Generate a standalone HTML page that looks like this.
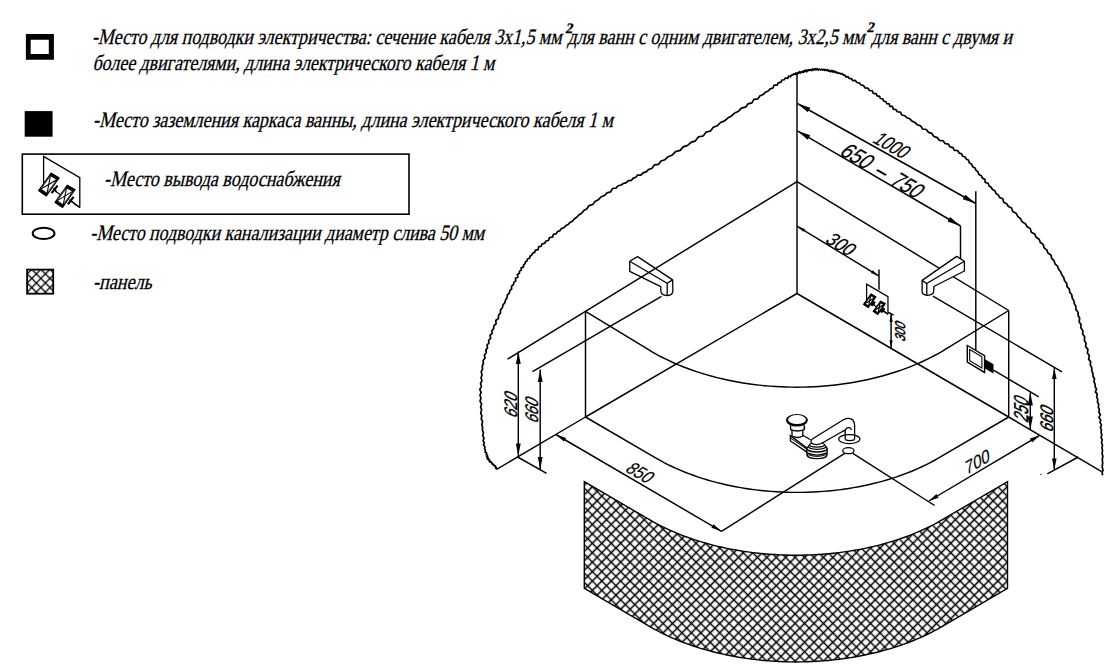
<!DOCTYPE html>
<html><head><meta charset="utf-8"><title>Схема подключения ванны</title>
<style>html,body{margin:0;padding:0;background:#fff;}body{width:1105px;height:668px;position:relative;overflow:hidden;font-family:"Liberation Serif",serif;}</style>
</head><body>
<svg width="1105" height="668" viewBox="0 0 1105 668" style="position:absolute;left:0;top:0">
<defs>
<pattern id="hatchP" patternUnits="userSpaceOnUse" width="6.6680" height="6.6680" patternTransform="translate(762.1,576.285) rotate(45)"><path d="M0,3.3340 H6.6680 M3.3340,0 V6.6680" stroke="#000" stroke-width="1.55" fill="none"/></pattern>
<pattern id="hatchS" patternUnits="userSpaceOnUse" width="6.4347" height="6.4347" patternTransform="translate(36.3,269.350) rotate(45)"><path d="M0,3.2173 H6.4347 M3.2173,0 V6.4347" stroke="#000" stroke-width="1.35" fill="none"/></pattern>
</defs>
<g stroke="#000" fill="none" stroke-linecap="butt">
<path d="M496.60,469.40 L496.73,468.78 L495.83,468.48 L496.29,467.33 L495.12,466.98 L495.34,465.84 L494.05,465.77 L494.06,464.82 L493.02,464.84 L492.95,463.82 L491.95,463.84 L491.84,462.81 L491.00,462.55 L490.95,461.49 L489.45,461.82 L489.65,460.50 L488.67,460.21 L488.93,458.94 L487.11,458.91 L487.99,457.32 L486.59,456.82 L487.48,455.30 L486.05,454.56 L486.66,453.03 L485.13,451.94 L485.41,450.24 L484.60,448.65 L484.92,446.74 L483.45,444.97 L484.24,442.75 L483.07,440.65 L484.05,438.13 L482.69,435.69 L483.45,432.90 L482.43,430.20 L482.57,427.35 L481.84,424.57 L482.61,421.65 L481.22,418.83 L481.88,415.81 L480.68,412.91 L481.63,409.87 L480.59,406.97 L481.63,404.00 L480.03,401.13 L480.99,398.19 L479.98,395.29 L481.15,392.37 L479.78,389.43 L481.45,386.56 L480.49,383.57 L481.98,380.72 L481.05,377.71 L482.04,374.88 L481.15,371.86 L482.55,369.12 L482.21,366.13 L483.40,363.41 L483.10,360.44 L485.08,357.98 L484.34,355.01 L486.36,352.78 L485.80,349.98 L487.54,347.84 L486.98,345.07 L488.90,343.04 L488.61,340.29 L490.69,338.32 L489.91,335.38 L492.12,333.52 L491.91,330.72 L493.67,328.62 L493.82,325.81 L496.12,323.75 L495.72,320.50 L498.45,318.48 L498.50,315.33 L500.41,312.99 L500.50,309.92 L502.41,307.70 L502.95,304.88 L504.84,302.69 L505.53,299.99 L507.06,297.75 L507.31,295.00 L509.31,293.16 L509.86,290.70 L511.63,288.91 L511.51,286.23 L513.48,284.65 L513.85,282.32 L515.81,280.84 L515.48,278.26 L517.91,277.11 L517.38,274.53 L519.38,273.30 L519.58,271.17 L521.31,269.96 L521.11,267.73 L523.54,267.10 L523.47,264.99 L524.90,263.81 L525.43,261.98 L527.05,260.91 L527.48,258.95 L529.53,258.28 L530.00,256.23 L531.65,255.14 L532.55,253.25 L534.66,252.38 L535.43,250.11 L538.07,249.64 L538.60,246.91 L541.15,246.27 L542.08,243.82 L544.73,243.27 L546.02,241.05 L548.59,240.31 L549.49,237.48 L552.45,237.20 L553.39,234.38 L556.10,233.87 L557.49,231.67 L559.87,230.78 L561.34,228.60 L563.87,227.75 L565.70,225.85 L568.11,224.58 L569.84,222.42 L572.41,221.20 L574.22,218.92 L576.71,217.29 L578.83,215.00 L581.65,213.27 L583.82,210.54 L586.90,208.69 L589.01,205.58 L592.75,204.44 L595.02,201.52 L598.28,199.83 L600.83,197.02 L604.37,195.57 L607.02,192.92 L610.59,191.84 L612.50,188.52 L616.01,188.13 L618.17,185.73 L621.13,185.02 L623.50,183.32 L626.33,182.60 L628.48,180.59 L631.47,180.32 L633.31,178.13 L635.82,177.31 L637.65,175.11 L640.81,175.06 L643.02,172.83 L646.22,171.88 L648.70,169.46 L652.06,168.20 L654.32,164.96 L658.47,164.41 L660.95,161.00 L664.98,159.71 L668.19,156.74 L672.32,154.97 L675.57,151.67 L680.12,150.37 L683.19,146.82 L687.60,145.41 L691.04,142.36 L695.48,140.86 L698.37,136.94 L703.12,135.97 L705.96,132.16 L710.52,131.04 L713.28,127.30 L717.47,125.71 L720.53,122.52 L724.62,120.91 L727.78,118.01 L731.47,115.90 L734.67,113.08 L738.55,111.31 L741.37,108.12 L745.60,107.19 L748.02,103.83 L751.92,102.88 L753.92,99.30 L757.91,98.83 L760.00,95.78 L763.16,94.54 L765.39,92.21 L768.20,90.99 L770.16,88.82 L772.93,87.98 L774.14,85.22 L777.14,85.15 L778.33,82.69 L780.89,82.43 L781.91,80.03 L784.18,79.78 L785.38,78.02 L787.74,78.44 L788.43,76.17 L790.54,76.79 L791.32,75.01 L792.89,75.22 L793.67,73.76 L795.21,74.44 L795.85,72.91 L797.42,74.17 L797.89,72.55 L799.00,73.19 L799.44,71.64 L800.65,73.01 L801.18,71.83 L802.08,72.13 L802.68,71.45 L803.66,72.38 L803.98,70.59 L804.93,71.45 L805.44,70.24 L806.62,71.74 L806.98,69.99 L808.02,70.86 L808.60,69.68 L809.63,70.32 L810.48,69.77 L811.62,70.71 L812.50,69.00 L813.74,70.12 L814.77,68.57 L816.00,69.89 L817.12,68.53 L818.25,70.20 L819.46,69.13 L820.59,69.87 L821.82,69.25 L822.88,70.08 L824.08,69.26 L824.97,70.37 L826.09,69.73 L826.89,70.65 L828.06,69.75 L828.72,71.23 L829.84,70.50 L830.60,71.77 L831.77,70.45 L832.50,71.93 L833.68,70.75 L834.38,72.34 L835.64,71.50 L836.37,72.87 L837.58,72.46 L838.43,73.40 L839.77,73.03 L840.77,73.88 L842.40,73.56 L843.28,75.15 L845.03,75.13 L845.90,77.01 L848.06,76.69 L849.20,78.46 L851.39,78.56 L852.70,80.58 L855.36,80.47 L856.96,82.50 L859.49,82.98 L861.16,85.02 L863.62,85.66 L865.11,87.91 L867.93,88.14 L869.44,90.48 L872.28,90.74 L873.37,93.47 L876.07,93.70 L877.15,95.93 L879.54,96.32 L880.40,98.48 L882.76,98.82 L883.54,101.06 L885.83,101.53 L886.77,103.68 L889.26,103.83 L889.87,106.36 L892.48,106.42 L893.20,109.15 L895.86,109.54 L897.38,111.77 L900.42,112.04 L901.75,115.01 L904.73,115.71 L906.90,117.75 L909.80,118.81 L911.98,121.13 L914.94,122.48 L917.37,124.77 L920.63,125.91 L922.60,129.00 L926.28,129.51 L928.44,132.33 L931.84,133.42 L933.91,136.51 L937.27,137.64 L939.42,140.42 L943.08,140.73 L945.01,143.48 L948.24,144.08 L950.01,146.84 L952.99,147.58 L954.48,150.37 L957.71,150.52 L959.12,152.95 L961.52,153.87 L962.68,156.19 L965.08,157.00 L966.31,159.12 L968.51,160.32 L969.36,162.89 L971.63,164.21 L972.62,166.64 L975.03,167.96 L976.07,170.36 L978.09,171.97 L978.87,174.57 L981.39,175.75 L982.40,178.17 L984.87,179.38 L985.19,182.42 L988.14,183.21 L988.97,185.85 L991.10,187.29 L992.44,189.47 L994.89,190.67 L995.90,193.36 L998.25,194.95 L999.72,197.57 L1002.78,198.80 L1003.69,202.20 L1006.70,203.70 L1008.47,206.47 L1011.55,208.07 L1012.75,211.53 L1016.06,213.15 L1017.77,216.35 L1020.46,218.67 L1022.18,221.87 L1025.39,223.68 L1027.16,226.73 L1030.28,228.62 L1031.36,232.25 L1034.69,233.94 L1036.11,237.21 L1039.05,239.18 L1040.32,242.43 L1043.17,244.39 L1044.09,247.81 L1046.78,249.86 L1047.86,253.08 L1050.94,254.90 L1051.71,258.29 L1053.98,260.68 L1055.02,263.85 L1057.46,266.14 L1058.61,269.21 L1060.64,271.77 L1061.79,274.82 L1063.74,277.47 L1064.58,280.68 L1066.70,283.24 L1067.03,286.63 L1069.37,289.05 L1069.77,292.28 L1071.72,294.82 L1072.19,297.94 L1073.81,300.61 L1074.38,303.67 L1075.85,306.43 L1075.94,309.65 L1078.10,312.24 L1078.09,315.48 L1079.70,318.28 L1079.12,321.69 L1081.02,324.47 L1080.83,327.82 L1082.88,330.64 L1082.66,334.05 L1084.75,336.89 L1084.28,340.35 L1086.04,343.24 L1085.60,346.67 L1087.96,349.42 L1087.41,352.88 L1089.37,355.70 L1088.62,359.12 L1090.66,361.80 L1090.25,365.00 L1091.78,367.69 L1091.82,370.68 L1092.86,373.40 L1093.02,376.25 L1094.50,378.78 L1093.96,381.64 L1095.07,384.10 L1095.07,386.73 L1096.54,389.06 L1095.34,391.86 L1097.27,394.14 L1096.66,396.87 L1097.76,399.32 L1097.45,401.99 L1098.71,404.43 L1098.29,407.10 L1099.40,409.56 L1098.87,412.24 L1100.45,414.66 L1098.90,417.44 L1100.68,419.84 L1100.02,422.49 L1101.52,424.92 L1100.43,427.54 L1101.46,429.95 L1101.07,432.45 L1101.84,434.89 L1101.02,437.46 L1102.25,439.97 L1101.54,442.63 L1102.52,445.22 L1101.94,447.91 L1102.55,450.61 L1102.07,453.42 L1102.84,456.29 L1102.28,459.52 L1102.68,463.10 L1102.19,466.77 L1102.96,470.20 L1102.05,473.12 L1102.70,475.20" fill="none" stroke-width="1.7" stroke-linejoin="round"/>
<path d="M584.30,481.65 L649.93,519.94 L653.80,522.14 L657.77,524.28 L661.84,526.36 L666.00,528.38 L670.24,530.33 L674.57,532.22 L678.99,534.04 L683.49,535.79 L688.06,537.47 L692.71,539.09 L697.42,540.63 L702.21,542.10 L707.06,543.49 L711.97,544.81 L716.94,546.06 L721.96,547.23 L727.03,548.32 L732.15,549.33 L737.31,550.27 L742.52,551.13 L747.75,551.90 L753.03,552.60 L758.33,553.21 L763.66,553.75 L769.01,554.20 L774.38,554.57 L779.76,554.86 L785.15,555.07 L790.55,555.19 L795.96,555.23 L801.36,555.19 L806.77,555.07 L812.16,554.86 L817.54,554.57 L822.91,554.20 L828.26,553.75 L833.59,553.21 L838.89,552.60 L844.16,551.90 L849.40,551.13 L854.60,550.27 L859.76,549.33 L864.88,548.32 L869.95,547.23 L874.97,546.06 L879.93,544.81 L884.84,543.49 L889.69,542.10 L894.47,540.63 L899.19,539.09 L903.83,537.47 L908.40,535.79 L912.89,534.04 L917.31,532.22 L921.64,530.33 L925.88,528.38 L930.03,526.36 L934.10,524.28 L938.06,522.14 L941.93,519.94 L1007.50,481.65 L1007.50,588.35 L941.93,626.63 L938.06,628.84 L934.10,630.98 L930.03,633.06 L925.88,635.08 L921.64,637.03 L917.31,638.92 L912.89,640.74 L908.40,642.49 L903.83,644.17 L899.19,645.79 L894.47,647.33 L889.69,648.80 L884.84,650.19 L879.93,651.51 L874.97,652.76 L869.95,653.93 L864.88,655.02 L859.76,656.03 L854.60,656.97 L849.40,657.83 L844.16,658.60 L838.89,659.30 L833.59,659.91 L828.26,660.45 L822.91,660.90 L817.54,661.27 L812.16,661.56 L806.77,661.77 L801.36,661.89 L795.96,661.93 L790.55,661.89 L785.15,661.77 L779.76,661.56 L774.38,661.27 L769.01,660.90 L763.66,660.45 L758.33,659.91 L753.03,659.30 L747.75,658.60 L742.52,657.83 L737.31,656.97 L732.15,656.03 L727.03,655.02 L721.96,653.93 L716.94,652.76 L711.97,651.51 L707.06,650.19 L702.21,648.80 L697.42,647.33 L692.71,645.79 L688.06,644.17 L683.49,642.49 L678.99,640.74 L674.57,638.92 L670.24,637.03 L666.00,635.08 L661.84,633.06 L657.77,630.98 L653.80,628.84 L649.93,626.63 L584.30,588.35 Z" fill="url(#hatchP)" stroke-width="1.4"/>
<line x1="797.00" y1="73.60" x2="797.00" y2="293.50" stroke-width="1.45" />
<line x1="797.00" y1="181.60" x2="1008.70" y2="310.50" stroke-width="1.45" />
<line x1="797.00" y1="293.50" x2="585.50" y2="417.00" stroke-width="1.45" />
<line x1="797.00" y1="293.50" x2="1008.70" y2="417.00" stroke-width="1.45" />
<line x1="585.50" y1="311.30" x2="585.50" y2="417.00" stroke-width="1.45" />
<line x1="1008.70" y1="310.50" x2="1008.70" y2="417.00" stroke-width="1.45" />
<path d="M585.50,311.30 L649.01,349.97 L652.94,352.30 L656.97,354.57 L661.09,356.77 L665.31,358.90 L669.62,360.97 L674.01,362.97 L678.49,364.89 L683.06,366.75 L687.69,368.53 L692.41,370.23 L697.19,371.86 L702.05,373.41 L706.97,374.88 L711.95,376.28 L716.99,377.59 L722.08,378.82 L727.23,379.97 L732.42,381.04 L737.66,382.02 L742.94,382.92 L748.26,383.74 L753.60,384.47 L758.98,385.11 L764.39,385.67 L769.82,386.14 L775.26,386.52 L780.72,386.82 L786.20,387.03 L791.68,387.15 L797.16,387.18 L802.64,387.13 L808.12,386.98 L813.59,386.75 L819.05,386.44 L824.50,386.03 L829.93,385.54 L835.33,384.96 L840.71,384.30 L846.06,383.55 L851.37,382.72 L856.65,381.80 L861.88,380.79 L867.08,379.71 L872.22,378.54 L877.31,377.29 L882.35,375.95 L887.33,374.54 L892.25,373.05 L897.10,371.48 L901.88,369.83 L906.59,368.11 L911.23,366.31 L915.79,364.44 L920.27,362.50 L924.66,360.49 L928.96,358.41 L933.18,356.26 L937.30,354.04 L941.32,351.76 L945.25,349.41 L1008.70,310.50" fill="none" stroke-width="1.45" />
<path d="M585.50,417.00 L656.42,458.37 L660.15,460.49 L663.98,462.56 L667.90,464.56 L671.91,466.51 L676.00,468.39 L680.17,470.21 L684.43,471.96 L688.76,473.65 L693.17,475.28 L697.65,476.83 L702.20,478.32 L706.81,479.73 L711.48,481.08 L716.21,482.35 L721.00,483.55 L725.84,484.68 L730.73,485.73 L735.66,486.71 L740.64,487.61 L745.65,488.43 L750.70,489.18 L755.78,489.85 L760.89,490.45 L766.03,490.96 L771.19,491.40 L776.36,491.75 L781.55,492.03 L786.75,492.23 L791.95,492.35 L797.16,492.39 L802.37,492.35 L807.58,492.23 L812.77,492.03 L817.96,491.75 L823.13,491.40 L828.29,490.96 L833.42,490.45 L838.53,489.85 L843.61,489.18 L848.66,488.43 L853.68,487.61 L858.65,486.71 L863.58,485.73 L868.47,484.68 L873.31,483.55 L878.09,482.35 L882.82,481.08 L887.49,479.73 L892.10,478.32 L896.65,476.83 L901.12,475.28 L905.53,473.65 L909.86,471.96 L914.11,470.21 L918.28,468.39 L922.37,466.51 L926.38,464.56 L930.29,462.56 L934.12,460.49 L937.85,458.37 L1008.70,417.00" fill="none" stroke-width="1.45" />
<line x1="585.50" y1="417.00" x2="496.60" y2="469.40" stroke-width="1.45" />
<line x1="517.60" y1="457.00" x2="546.60" y2="473.40" stroke-width="1.45" />
<line x1="661.50" y1="296.30" x2="532.50" y2="371.60" stroke-width="1.45" />
<line x1="1008.70" y1="417.00" x2="1101.70" y2="471.60" stroke-width="1.45" />
<line x1="1047.30" y1="473.80" x2="1078.30" y2="457.00" stroke-width="1.45" />
<line x1="932.90" y1="296.20" x2="1062.00" y2="371.80" stroke-width="1.45" />
<line x1="993.50" y1="370.20" x2="1038.80" y2="396.90" stroke-width="1.45" />
<line x1="975.80" y1="191.20" x2="975.80" y2="350.00" stroke-width="1.45" />
<line x1="960.50" y1="226.00" x2="960.50" y2="259.50" stroke-width="1.45" />
<line x1="879.00" y1="269.40" x2="879.00" y2="289.80" stroke-width="1.45" />
<line x1="888.20" y1="312.20" x2="893.60" y2="315.20" stroke-width="1.45" />
<line x1="844.70" y1="453.40" x2="721.50" y2="531.30" stroke-width="1.45" />
<line x1="852.80" y1="453.40" x2="934.60" y2="505.50" stroke-width="1.45" />
<circle cx="1040.9" cy="474.4" r="0.6" fill="#000" stroke="none"/>
<line x1="797.30" y1="103.50" x2="975.80" y2="203.50" stroke-width="1.45" />
<path d="M797.30,103.50 L807.81,112.37 L810.35,107.83 Z" fill="#000" stroke="none"/>
<path d="M975.80,203.50 L965.29,194.63 L962.75,199.17 Z" fill="#000" stroke="none"/>
<line x1="797.30" y1="130.80" x2="960.50" y2="226.00" stroke-width="1.45" />
<path d="M797.30,130.80 L807.65,139.85 L810.27,135.36 Z" fill="#000" stroke="none"/>
<path d="M960.50,226.00 L950.15,216.95 L947.53,221.44 Z" fill="#000" stroke="none"/>
<line x1="797.30" y1="226.30" x2="878.60" y2="275.80" stroke-width="1.45" />
<path d="M797.30,226.30 L803.30,231.83 L804.97,229.09 Z" fill="#000" stroke="none"/>
<path d="M878.60,275.80 L872.60,270.27 L870.93,273.01 Z" fill="#000" stroke="none"/>
<line x1="891.10" y1="313.90" x2="891.10" y2="348.30" stroke-width="1.45" />
<path d="M891.10,313.90 L889.50,321.90 L892.70,321.90 Z" fill="#000" stroke="none"/>
<path d="M891.10,348.30 L892.70,340.30 L889.50,340.30 Z" fill="#000" stroke="none"/>
<line x1="518.30" y1="351.50" x2="518.30" y2="456.00" stroke-width="1.45" />
<path d="M518.30,351.50 L515.90,364.00 L520.70,364.00 Z" fill="#000" stroke="none"/>
<path d="M518.30,456.00 L520.70,443.50 L515.90,443.50 Z" fill="#000" stroke="none"/>
<line x1="540.20" y1="369.40" x2="540.20" y2="469.50" stroke-width="1.45" />
<path d="M540.20,369.40 L537.80,381.90 L542.60,381.90 Z" fill="#000" stroke="none"/>
<path d="M540.20,469.50 L542.60,457.00 L537.80,457.00 Z" fill="#000" stroke="none"/>
<line x1="555.90" y1="434.50" x2="721.50" y2="531.30" stroke-width="1.45" />
<path d="M555.90,434.50 L563.91,441.61 L566.02,437.99 Z" fill="#000" stroke="none"/>
<path d="M721.50,531.30 L713.49,524.19 L711.38,527.81 Z" fill="#000" stroke="none"/>
<line x1="928.90" y1="501.00" x2="1039.60" y2="435.40" stroke-width="1.45" />
<path d="M928.90,501.00 L938.62,497.79 L936.38,494.01 Z" fill="#000" stroke="none"/>
<path d="M1039.60,435.40 L1029.88,438.61 L1032.12,442.39 Z" fill="#000" stroke="none"/>
<line x1="1030.30" y1="392.50" x2="1030.30" y2="429.40" stroke-width="1.45" />
<path d="M1030.30,392.50 L1027.70,405.50 L1032.90,405.50 Z" fill="#000" stroke="none"/>
<path d="M1030.30,429.40 L1032.90,416.40 L1027.70,416.40 Z" fill="#000" stroke="none"/>
<line x1="1054.30" y1="368.10" x2="1054.30" y2="469.60" stroke-width="1.45" />
<path d="M1054.30,368.10 L1052.00,379.10 L1056.60,379.10 Z" fill="#000" stroke="none"/>
<path d="M1054.30,469.60 L1056.60,458.60 L1052.00,458.60 Z" fill="#000" stroke="none"/>
<path d="M629.7,261.2 L637.6,256.6 L672.6,279.9 L672.9,290.3 Q673.0,295.6 667.2,295.5 Q660.8,295.3 660.8,290.4 L660.8,286.7 L629.7,271.3 Z" fill="#fff" stroke-width="1.3" stroke-linejoin="round"/>
<path d="M629.70,261.20 L667.20,283.30 L672.60,279.90" fill="none" stroke-width="1.3" />
<line x1="667.20" y1="283.30" x2="667.20" y2="295.40" stroke-width="1.3" />
<line x1="797.00" y1="181.60" x2="507.50" y2="359.20" stroke-width="1.45" />
<path d="M922.1,280.4 L956.7,256.4 L964.4,261.3 L964.4,271.0 L933.8,286.5 L933.8,289.9 Q933.8,295.4 927.3,295.3 Q922.1,295.0 922.1,291.5 Z" fill="#fff" stroke-width="1.3" stroke-linejoin="round"/>
<path d="M922.10,280.40 L926.60,283.60 L964.40,261.30" fill="none" stroke-width="1.3" />
<line x1="926.80" y1="283.60" x2="926.80" y2="295.20" stroke-width="1.3" />
<path d="M967.3,345.5 L984.6,355.6 L984.6,372.4 L967.3,362.2 Z" fill="#fff" stroke-width="1.4"/>
<path d="M969.7,349.6 L981.9,356.7 L981.9,368.0 L969.7,360.8 Z" fill="none" stroke-width="1.1"/>
<path d="M984.6,359.0 L993.5,364.2 L993.5,373.5 L984.6,368.3 Z" fill="#000" stroke="none"/>
<g transform="translate(866.6,284.2) scale(0.59) translate(-43.6,-156.4)">
<path d="M43.60,184.00 L43.60,156.40 L79.80,177.60 L79.80,207.50" fill="none" stroke-width="2.1" />
<line x1="79.80" y1="207.50" x2="73.50" y2="203.20" stroke-width="2.1" />
<path d="M51.20,173.10 L59.10,178.00 L46.30,195.90 L38.60,190.70 Z" fill="#fff" stroke-width="2.09" />
<path d="M51.20,173.10 L59.10,178.00 L57.53,180.20 L49.63,175.30 Z" fill="#000" stroke="#000" stroke-width="1.14" stroke-linejoin="round"/>
<path d="M38.60,190.70 L46.30,195.90 L47.87,193.70 L40.17,188.50 Z" fill="#000" stroke="#000" stroke-width="1.14" stroke-linejoin="round"/>
<line x1="50.39" y1="175.77" x2="47.11" y2="193.23" stroke-width="2.09" />
<line x1="56.76" y1="179.72" x2="40.94" y2="188.98" stroke-width="2.09" />
<line x1="50.39" y1="175.77" x2="40.94" y2="188.98" stroke-width="1.52" />
<line x1="56.76" y1="179.72" x2="47.11" y2="193.23" stroke-width="1.52" />
<line x1="51.60" y1="193.00" x2="57.60" y2="185.60" stroke-width="4.18" />
<line x1="53.20" y1="188.20" x2="56.60" y2="191.60" stroke-width="3.04" />
<line x1="55.20" y1="191.30" x2="62.00" y2="195.40" stroke-width="2.28" />
<path d="M67.30,185.30 L75.00,189.60 L62.50,207.40 L55.00,202.40 Z" fill="#fff" stroke-width="2.09" />
<path d="M67.30,185.30 L75.00,189.60 L73.42,191.79 L65.72,187.49 Z" fill="#000" stroke="#000" stroke-width="1.14" stroke-linejoin="round"/>
<path d="M55.00,202.40 L62.50,207.40 L64.08,205.21 L56.58,200.21 Z" fill="#000" stroke="#000" stroke-width="1.14" stroke-linejoin="round"/>
<line x1="66.51" y1="187.93" x2="63.29" y2="204.77" stroke-width="2.09" />
<line x1="72.64" y1="191.35" x2="57.36" y2="200.65" stroke-width="2.09" />
<line x1="66.51" y1="187.93" x2="57.36" y2="200.65" stroke-width="1.52" />
<line x1="72.64" y1="191.35" x2="63.29" y2="204.77" stroke-width="1.52" />
<line x1="67.90" y1="204.30" x2="73.60" y2="196.80" stroke-width="4.18" />
<line x1="69.60" y1="199.60" x2="73.00" y2="202.60" stroke-width="3.04" />
<line x1="72.00" y1="201.60" x2="79.80" y2="207.40" stroke-width="2.28" />
</g>
<ellipse cx="848.4" cy="450.7" rx="5.6" ry="3.0" fill="#fff" stroke-width="1.3"/>
<ellipse cx="849.3" cy="439.1" rx="10.6" ry="4.5" fill="#fff" stroke-width="1.2"/>
<path d="M845.2,439.6 L845.2,430.5 Q846.0,427.4 849.5,427.6 Q851.3,428.0 851.3,430.0 M854.6,439.6 L854.6,425.0 Q854.0,418.0 848.0,418.4 Q845.0,418.6 843.0,420.0" fill="none" stroke-width="1.3"/>
<path d="M845.2,439.6 Q849.9,441.8 854.6,439.6" fill="#fff" stroke-width="1.2"/>
<path d="M837.5,423.4 Q840.5,427.5 842.8,431.2" fill="none" stroke-width="1.0"/>
<path d="M790.4,435.6 L790.4,441.0 L807.0,452.2 L807.0,448.2 Z" fill="#fff" stroke-width="1.4"/>
<line x1="790.80" y1="438.20" x2="806.80" y2="449.30" stroke-width="1.0" />
<line x1="802.80" y1="435.20" x2="810.50" y2="439.80" stroke-width="1.3" />
<path d="M806.9,448.3 L806.9,454.6 Q807.5,458.6 817.0,458.6 Q826.5,458.6 827.1,454.6 L827.1,448.3" fill="#fff" stroke-width="1.4"/>
<path d="M807.2,452.9 Q817,457.2 826.8,452.9" fill="none" stroke-width="1.3"/>
<path d="M807.2,454.4 Q817,458.4 826.8,454.4" fill="none" stroke-width="1.0"/>
<ellipse cx="817.0" cy="448.6" rx="10.1" ry="3.4" fill="#fff" stroke-width="1.4"/>
<ellipse cx="817.1" cy="446.6" rx="8.6" ry="2.7" fill="#fff" stroke-width="1.2"/>
<ellipse cx="817.0" cy="444.8" rx="7.4" ry="2.3" fill="#fff" stroke-width="1.2"/>
<path d="M843.0,420.0 L812.7,438.8 Q809.8,440.8 811.6,443.0 Q813.5,444.8 816.8,444.6 Q821.0,444.2 823.6,442.3 L842.8,431.2" fill="#fff" stroke-width="1.3"/>
<path d="M845.0,430.5 Q843.8,430.4 842.8,431.2" fill="none" stroke-width="1.3"/>
<path d="M792.0,429.0 L792.0,436.0 Q797.4,439.0 802.8,436.0 L802.8,429.0" fill="#fff" stroke-width="1.3"/>
<path d="M790.6,425.0 L790.6,429.6 Q797.4,432.4 804.2,429.6 L804.2,425.0" fill="#fff" stroke-width="1.3"/>
<path d="M804.2,427.0 L805.2,428.0 L804.2,429.0" fill="none" stroke-width="1.0"/>
<ellipse cx="796.9" cy="420.2" rx="10.9" ry="6.3" fill="#000" stroke="none"/>
<ellipse cx="797.0" cy="419.6" rx="9.0" ry="4.5" fill="#fff" stroke="none"/>
<path d="M25.9,34 H53.9 V59.7 H25.9 Z M30.7,39.7 V54 H48.8 V39.7 Z" fill="#000" fill-rule="evenodd" stroke="none"/>
<rect x="24.7" y="111.1" width="27.9" height="25.6" fill="#000" stroke="none"/>
<rect x="22.3" y="154.1" width="386.7" height="60.1" fill="none" stroke-width="1.6"/>
<g id="mixicon">
<path d="M43.60,184.00 L43.60,156.40 L79.80,177.60 L79.80,207.50" fill="none" stroke-width="1.3" />
<line x1="79.80" y1="207.50" x2="73.50" y2="203.20" stroke-width="1.3" />
<path d="M51.20,173.10 L59.10,178.00 L46.30,195.90 L38.60,190.70 Z" fill="#fff" stroke-width="1.1" />
<path d="M51.20,173.10 L59.10,178.00 L57.53,180.20 L49.63,175.30 Z" fill="#000" stroke="#000" stroke-width="0.60" stroke-linejoin="round"/>
<path d="M38.60,190.70 L46.30,195.90 L47.87,193.70 L40.17,188.50 Z" fill="#000" stroke="#000" stroke-width="0.60" stroke-linejoin="round"/>
<line x1="50.39" y1="175.77" x2="47.11" y2="193.23" stroke-width="1.1" />
<line x1="56.76" y1="179.72" x2="40.94" y2="188.98" stroke-width="1.1" />
<line x1="50.39" y1="175.77" x2="40.94" y2="188.98" stroke-width="0.8" />
<line x1="56.76" y1="179.72" x2="47.11" y2="193.23" stroke-width="0.8" />
<line x1="51.60" y1="193.00" x2="57.60" y2="185.60" stroke-width="2.2" />
<line x1="53.20" y1="188.20" x2="56.60" y2="191.60" stroke-width="1.6" />
<line x1="55.20" y1="191.30" x2="62.00" y2="195.40" stroke-width="1.2" />
<path d="M67.30,185.30 L75.00,189.60 L62.50,207.40 L55.00,202.40 Z" fill="#fff" stroke-width="1.1" />
<path d="M67.30,185.30 L75.00,189.60 L73.42,191.79 L65.72,187.49 Z" fill="#000" stroke="#000" stroke-width="0.60" stroke-linejoin="round"/>
<path d="M55.00,202.40 L62.50,207.40 L64.08,205.21 L56.58,200.21 Z" fill="#000" stroke="#000" stroke-width="0.60" stroke-linejoin="round"/>
<line x1="66.51" y1="187.93" x2="63.29" y2="204.77" stroke-width="1.1" />
<line x1="72.64" y1="191.35" x2="57.36" y2="200.65" stroke-width="1.1" />
<line x1="66.51" y1="187.93" x2="57.36" y2="200.65" stroke-width="0.8" />
<line x1="72.64" y1="191.35" x2="63.29" y2="204.77" stroke-width="0.8" />
<line x1="67.90" y1="204.30" x2="73.60" y2="196.80" stroke-width="2.2" />
<line x1="69.60" y1="199.60" x2="73.00" y2="202.60" stroke-width="1.6" />
<line x1="72.00" y1="201.60" x2="79.80" y2="207.40" stroke-width="1.2" />
</g>
<ellipse cx="43.6" cy="233.4" rx="10.9" ry="5.6" fill="none" stroke-width="2"/>
<rect x="27.1" y="269.6" width="26.1" height="24.1" fill="url(#hatchS)" stroke-width="1.8"/>
<text transform="matrix(1.4069,0.7831,-1.5656,1.4599,886.78,150.42)" font-family="Liberation Sans" font-style="normal" font-size="10" text-anchor="middle" fill="#000" stroke="#000" stroke-width="0.088">1000</text>
<text transform="matrix(1.6251,0.9458,-1.7387,1.6214,876.91,176.59)" font-family="Liberation Sans" font-style="normal" font-size="10" text-anchor="middle" fill="#000" word-spacing="1.6" stroke="#000" stroke-width="0.088">650 – 750</text>
<text transform="matrix(1.4515,0.8895,-1.5124,1.3618,836.22,249.14)" font-family="Liberation Sans" font-style="normal" font-size="10" text-anchor="middle" fill="#000" stroke="#000" stroke-width="0.088">300</text>
<text transform="matrix(1.3417,0.7871,-1.4494,1.3051,635.41,477.28)" font-family="Liberation Sans" font-style="normal" font-size="10" text-anchor="middle" fill="#000" stroke="#000" stroke-width="0.088">850</text>
<text transform="matrix(1.4496,-0.8539,0.2277,1.8541,978.32,467.80)" font-family="Liberation Sans" font-style="normal" font-size="10" text-anchor="middle" fill="#000" stroke="#000" stroke-width="0.088">700</text>
<text transform="matrix(0.0000,-1.4632,1.8059,0.8040,517.16,406.66)" font-family="Liberation Sans" font-style="normal" font-size="10" text-anchor="middle" fill="#000" stroke="#000" stroke-width="0.220">620</text>
<text transform="matrix(0.0000,-1.4533,1.8147,0.8079,537.86,411.96)" font-family="Liberation Sans" font-style="normal" font-size="10" text-anchor="middle" fill="#000" stroke="#000" stroke-width="0.220">660</text>
<text transform="matrix(0.0000,-1.4311,2.0092,0.8946,1027.86,411.32)" font-family="Liberation Sans" font-style="normal" font-size="10" text-anchor="middle" fill="#000" stroke="#000" stroke-width="0.220">250</text>
<text transform="matrix(0.0000,-1.4798,1.8143,0.8078,1052.96,420.55)" font-family="Liberation Sans" font-style="normal" font-size="10" text-anchor="middle" fill="#000" stroke="#000" stroke-width="0.220">660</text>
<text transform="matrix(0.0000,-1.1072,1.4175,0.6311,905.18,332.86)" font-family="Liberation Sans" font-style="normal" font-size="10" text-anchor="middle" fill="#000" stroke="#000" stroke-width="0.396">300</text>
</g>
<g font-family="Liberation Serif" font-size="22" fill="#000" stroke="#000" stroke-width="0.3">
<text transform="translate(91.90,43.70) skewX(-13)" x="0" y="0" textLength="469.59" lengthAdjust="spacingAndGlyphs">-Место для подводки электричества: сечение кабеля 3х1,5 мм</text>
<text transform="translate(567.60,43.70) skewX(-13)" x="0" y="0" textLength="297.06" lengthAdjust="spacingAndGlyphs">для ванн с одним двигателем, 3х2,5 мм</text>
<text transform="translate(871.30,43.70) skewX(-13)" x="0" y="0" textLength="140.58" lengthAdjust="spacingAndGlyphs">для ванн с двумя и</text>
<text transform="translate(92.50,69.70) skewX(-13)" x="0" y="0" textLength="401.91" lengthAdjust="spacingAndGlyphs">более двигателями, длина электрического кабеля 1 м</text>
<text transform="translate(93.00,126.80) skewX(-13)" x="0" y="0" textLength="519.80" lengthAdjust="spacingAndGlyphs">-Место заземления каркаса ванны, длина электрического кабеля 1 м</text>
<text transform="translate(104.10,185.60) skewX(-13)" x="0" y="0" textLength="235.60" lengthAdjust="spacingAndGlyphs">-Место вывода водоснабжения</text>
<text transform="translate(90.20,239.70) skewX(-13)" x="0" y="0" textLength="393.90" lengthAdjust="spacingAndGlyphs">-Место подводки канализации диаметр слива 50 мм</text>
<text transform="translate(92.90,288.50) skewX(-13)" x="0" y="0" textLength="58.84" lengthAdjust="spacingAndGlyphs">-панель</text>
<text transform="translate(565.00,33.30) skewX(-13)" x="0" y="0" font-size="14.5" font-weight="bold">2</text>
<text transform="translate(866.60,31.70) skewX(-13)" x="0" y="0" font-size="14.5" font-weight="bold">2</text>
</g>
</svg>
</body></html>
